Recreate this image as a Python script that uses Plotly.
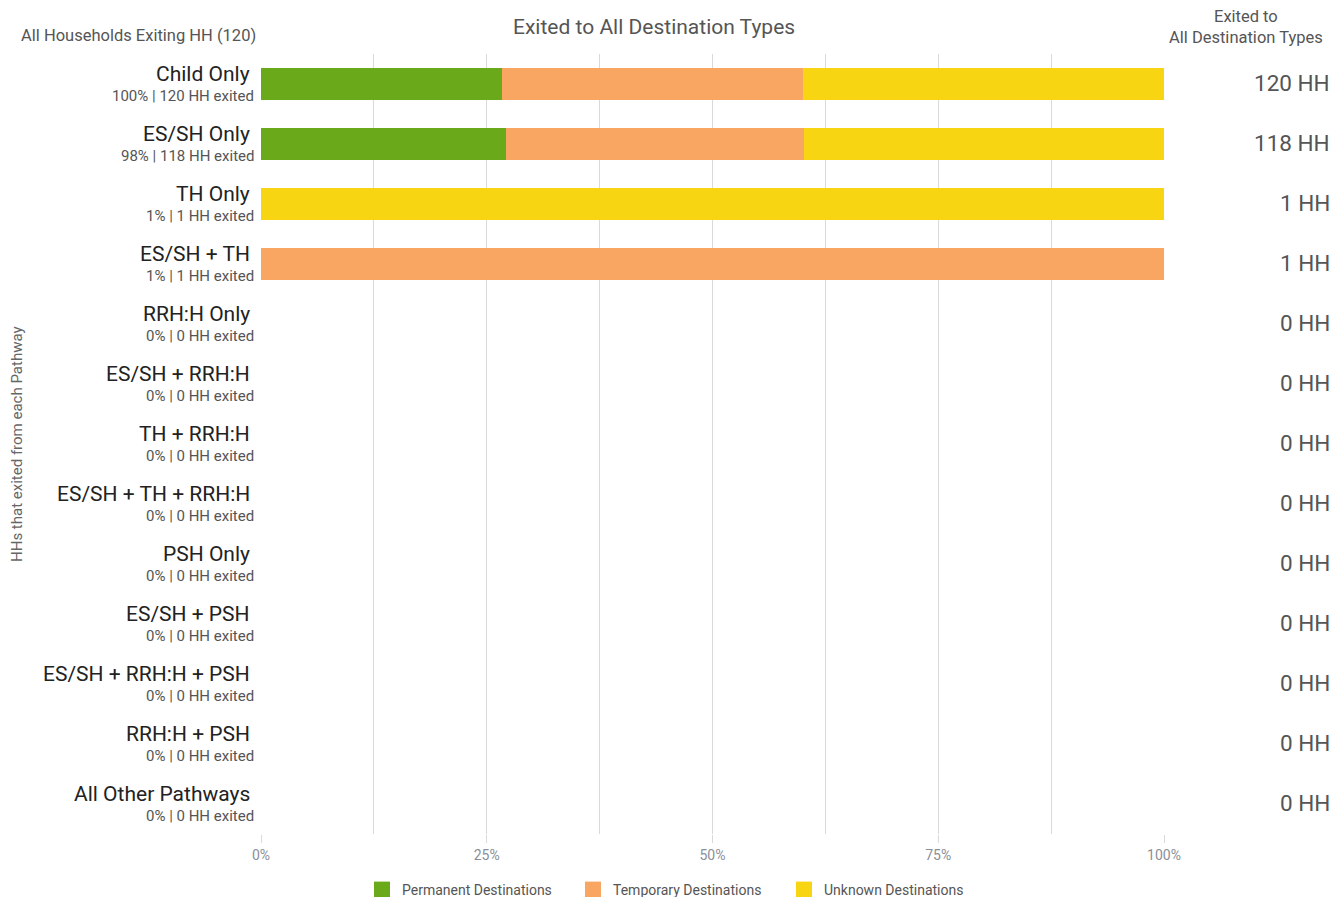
import plotly.graph_objects as go

TOTAL_HH = 120
pathways = ["Child Only", "ES/SH Only", "TH Only", "ES/SH + TH", "RRH:H Only", "ES/SH + RRH:H",
            "TH + RRH:H", "ES/SH + TH + RRH:H", "PSH Only", "ES/SH + PSH", "ES/SH + RRH:H + PSH",
            "RRH:H + PSH", "All Other Pathways"]
permanent = [32, 32, 0, 0, 0, 0, 0, 0, 0, 0, 0, 0, 0]
temporary = [40, 39, 0, 1, 0, 0, 0, 0, 0, 0, 0, 0, 0]
unknown = [48, 47, 1, 0, 0, 0, 0, 0, 0, 0, 0, 0, 0]
exited = [p + t + u for p, t, u in zip(permanent, temporary, unknown)]

series = [("Permanent Destinations", permanent, "#6AAA1A"),
          ("Temporary Destinations", temporary, "#F8A662"),
          ("Unknown Destinations", unknown, "#F8D513")]

FONT = "Roboto, Arial, sans-serif"
H = 889  # page body has an 8px margin, keep the figure inside the window

fig = go.Figure()
for name, vals, col in series:
    share = [v / n if n else 0 for v, n in zip(vals, exited)]
    fig.add_trace(go.Bar(y=pathways, x=share, name=name, orientation="h", showlegend=False,
                         marker=dict(color=col, line=dict(width=0)),
                         hovertemplate="%{y}: %{x:.1%}<extra>" + name + "</extra>"))
# bigger square swatches for the legend
for name, vals, col in series:
    fig.add_trace(go.Scatter(x=[None], y=[None], mode="markers", name=name,
                             marker=dict(symbol="square", size=17, color=col), hoverinfo="skip"))

# row labels and HH counts
for p, n in zip(pathways, exited):
    fig.add_annotation(x=0, xref="paper", y=p, yref="y", text=p, showarrow=False,
                       xanchor="right", xshift=-9, yshift=10, font=dict(size=21, color="#222"))
    fig.add_annotation(x=0, xref="paper", y=p, yref="y",
                       text=f"{round(n / TOTAL_HH * 100)}% | {n} HH exited", showarrow=False,
                       xanchor="right", xshift=-5, yshift=-12, font=dict(size=15, color="#555"))
    fig.add_annotation(x=1, xref="paper", y=p, yref="y", text=f"{n} HH", showarrow=False,
                       xanchor="right", xshift=168, yshift=1, font=dict(size=22.5, color="#555"))

fig.add_annotation(x=0, xref="paper", y=1, yref="paper", text=f"All Households Exiting HH ({TOTAL_HH})",
                   showarrow=False, xanchor="right", yanchor="middle", xshift=-3, yshift=19,
                   font=dict(size=16.5, color="#555"))
fig.add_annotation(x=1, xref="paper", y=1, yref="paper", text="Exited to<br>All Destination Types",
                   showarrow=False, xanchor="center", yanchor="middle", xshift=82, yshift=27,
                   font=dict(size=16.5, color="#555"))
fig.add_annotation(x=0, xref="paper", y=0.5, yref="paper", text="HHs that exited from each Pathway",
                   showarrow=False, textangle=-90, xanchor="center", xshift=-244,
                   font=dict(size=15, color="#666"))

fig.update_layout(
    width=1331, height=H,
    margin=dict(l=253, r=175, t=46, b=63),
    barmode="stack", bargap=0.467,
    plot_bgcolor="white", paper_bgcolor="white",
    font=dict(family=FONT, color="#555"),
    title=dict(text="Exited to All Destination Types", x=0.4854, xanchor="center", y=1 - 19 / H,
               yanchor="middle", font=dict(size=21, color="#555")),
    legend=dict(orientation="h", xref="container", x=354 / 1331, xanchor="left",
                yref="container", y=7 / H, yanchor="middle", entrywidth=166,
                font=dict(size=14, color="#555"), traceorder="normal"),
    xaxis=dict(range=[0, 1], tickvals=[0, 0.25, 0.5, 0.75, 1], tickformat=".0%",
               showgrid=True, gridcolor="#d9d9d9", zeroline=False,
               ticks="outside", ticklen=8, tickcolor="#d9d9d9",
               minor=dict(dtick=0.125, tick0=0, showgrid=True, gridcolor="#d9d9d9"),
               tickfont=dict(size=14, color="#8a8f99"), fixedrange=True),
    yaxis=dict(autorange="reversed", showticklabels=False, showgrid=False, fixedrange=True),
)

fig.write_html("out.html")
